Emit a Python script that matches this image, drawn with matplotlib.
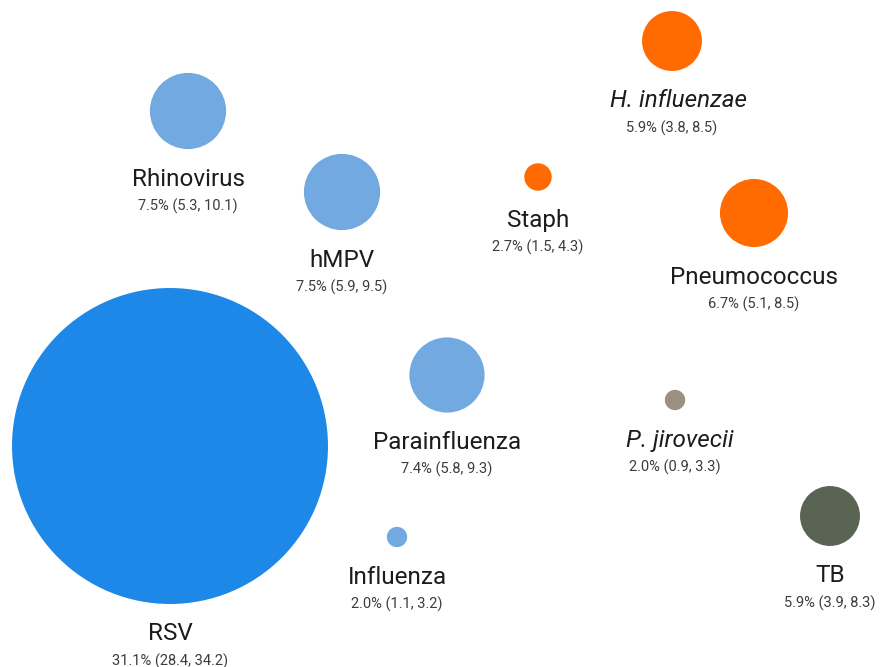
import matplotlib.pyplot as plt
from matplotlib.patches import Circle

# pathogen, share (%), confidence interval
names = ['Rhinovirus', 'hMPV', 'RSV', 'Parainfluenza', 'Influenza',
         'H. influenzae', 'Staph', 'Pneumococcus', 'P. jirovecii', 'TB']
share = [7.5, 7.5, 31.1, 7.4, 2.0, 5.9, 2.7, 6.7, 2.0, 5.9]
ci_low = [5.3, 5.9, 28.4, 5.8, 1.1, 3.8, 1.5, 5.1, 0.9, 3.9]
ci_high = [10.1, 9.5, 34.2, 9.3, 3.2, 8.5, 4.3, 8.5, 3.3, 8.3]
group = ['virus', 'virus', 'rsv', 'virus', 'virus',
         'bacteria', 'bacteria', 'bacteria', 'fungus', 'tb']
italic = [False, False, False, False, False, True, False, False, True, False]

# bubble layout (centres, in layout units)
pos_x = [188, 342, 170, 447, 397, 672, 538, 754, 675, 830]
pos_y = [111, 192, 446, 375, 537, 41, 177, 213, 400, 516]
label_dx = [0, 0, 0, 0, 0, 6, 0, 0, 5, 0]

colors = {'virus': '#72a9e1', 'rsv': '#1e88e8', 'bacteria': '#ff6b00',
          'fungus': '#9c9080', 'tb': '#5a6452'}

scale = 5.08  # radius per percentage point

plt.rcParams['font.family'] = ['Roboto', 'DejaVu Sans']
fig = plt.figure(figsize=(8.81, 6.67), dpi=100)
ax = fig.add_axes([0, 0, 1, 1])
ax.set_xlim(0, 881)
ax.set_ylim(667, 0)
ax.set_aspect('equal')
ax.axis('off')

for i in range(len(names)):
    r = share[i] * scale
    ax.add_patch(Circle((pos_x[i], pos_y[i]), r, color=colors[group[i]], lw=0))
    ax.text(pos_x[i] + label_dx[i], pos_y[i] + r + 30, names[i], ha='center', va='center',
            fontsize=17.5, color='#1c1c1c', style='italic' if italic[i] else 'normal')
    sub = f'{share[i]:.1f}% ({ci_low[i]}, {ci_high[i]})'
    ax.text(pos_x[i], pos_y[i] + r + 57, sub, ha='center', va='center',
            fontsize=10.5, color='#3c3c3c')

fig.savefig('out.png', dpi=100)
